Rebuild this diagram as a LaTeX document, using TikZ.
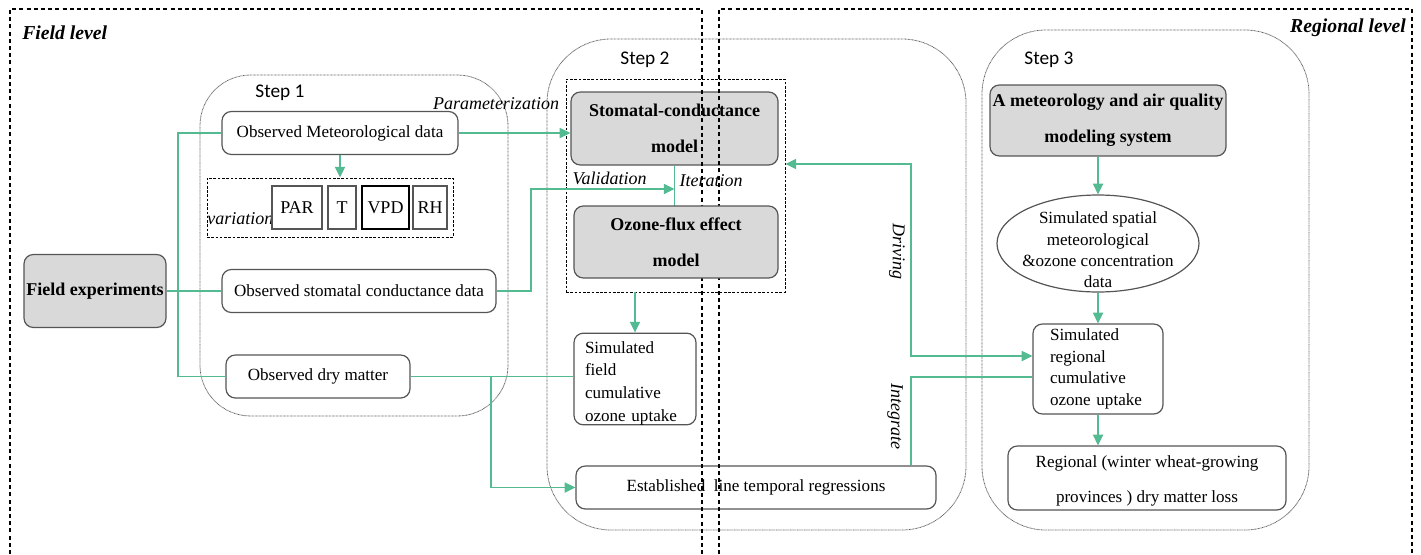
\documentclass[tikz,border=0pt]{standalone}
\usepackage{fontspec}
\setmainfont{Liberation Serif}
\newfontfamily\stepfont{Carlito}
\usetikzlibrary{arrows.meta,shapes.geometric,calc}

\definecolor{flow}{RGB}{84,186,146}
\definecolor{boxline}{RGB}{85,85,85}
\definecolor{boxfill}{RGB}{217,217,217}
\definecolor{stepline}{RGB}{95,95,95}

\tikzset{
  databox/.style={draw=boxline, line width=0.9pt, rounded corners=7pt, fill=white,
    inner sep=0pt, align=center, font=\fontsize{12.8}{15}\selectfont},
  modelbox/.style={databox, fill=boxfill, font=\bfseries\fontsize{13.5}{27}\selectfont},
  varbox/.style={draw=boxline, line width=0.9pt, inner sep=0pt, fill=white,
    minimum height=32.25pt, font=\fontsize{13.5}{15}\selectfont},
  finedash/.style={draw=black, line width=0.7pt, dash pattern=on 2pt off 1.2pt},
  levelframe/.style={draw=black, line width=0.8pt, dash pattern=on 3pt off 2.4pt},
  stepframe/.style={draw=stepline, line width=0.6pt, dash pattern=on 0.6pt off 0.45pt},
  steplabel/.style={font=\stepfont\fontsize{14.5}{16}\selectfont, inner sep=0pt},
  levellabel/.style={font=\bfseries\itshape\fontsize{14.8}{16}\selectfont, inner sep=0pt},
  flowlabel/.style={font=\itshape\fontsize{13.5}{15}\selectfont, inner sep=0pt},
  link/.style={draw=flow, line width=1.3pt},
  arr/.style={link, -{Triangle[length=8pt,width=7.5pt]}},
}

\begin{document}
\begin{tikzpicture}[x=0.75pt,y=-0.75pt]
\useasboundingbox (0,0) rectangle (1421,554);

% step frames (dotted rounded outlines)
\draw[stepframe, rounded corners=38pt] (200,75) rectangle (508,416);
\draw[stepframe, rounded corners=48pt] (547,39) rectangle (966,530);
\draw[stepframe, rounded corners=48pt] (982,30) rectangle (1309,530);
\node[steplabel] (s1) at (280,93) {Step 1};
\node[steplabel] (s2) at (645,60) {Step 2};
\node[steplabel] (s3) at (1049,60) {Step 3};

\node[levellabel, anchor=west] (fl) at (22,33) {Field level};
\node[levellabel, anchor=east] (rl) at (1406,28) {Regional level};

% field level: observations
\node[modelbox, minimum width=106.5pt, minimum height=54.75pt] (fe) at (95,291) {Field experiments};
\node[databox, minimum width=177pt, minimum height=32.25pt] (met) at (340,133) {Observed Meteorological data};
\node[finedash, minimum width=184.5pt, minimum height=44.25pt, inner sep=0pt] (var) at (330,207.5) {};
\node[flowlabel, anchor=west] (vartxt) at (207,219) {variation};
\node[varbox, minimum width=37.5pt] (par) at (297,207.5) {PAR};
\node[varbox, minimum width=21pt] (tt) at (342,207.5) {T};
\node[varbox, minimum width=35.25pt, draw=black, line width=1.4pt] (vpd) at (385.5,207.5) {VPD};
\node[varbox, minimum width=25.5pt] (rh) at (430,207.5) {RH};
\node[databox, minimum width=205.5pt, minimum height=32.25pt] (stom) at (359,291) {Observed stomatal conductance data};
\node[databox, minimum width=138pt, minimum height=32.25pt] (dry) at (318,376.5) {Observed dry matter};

% step 2: models
\node[finedash, minimum width=164.25pt, minimum height=159.75pt, inner sep=0pt] (mdl) at (675.5,185.5) {};
\node[modelbox, minimum width=155.25pt, minimum height=54.75pt] (scm) at (674.5,128.5) {Stomatal-conductance\\model};
\node[databox, minimum width=91.5pt, minimum height=67.5pt, align=left, text width=75pt,
  font=\fontsize{12.8}{17}\selectfont] (sfc) at (635,379) {\rule{0pt}{15pt}Simulated\\field\\cumulative\\ozone uptake};
\node[databox, minimum width=270pt, minimum height=32.25pt] (elr) at (756,487.5) {Established\ \ line temporal regressions};

% step 3: regional chain
\node[modelbox, minimum width=177pt, minimum height=53.25pt] (mams) at (1108,120.5) {A meteorology and air quality\\modeling system};
\node[draw=boxline, line width=0.9pt, ellipse, minimum width=151.5pt, minimum height=72.75pt,
  inner sep=0pt] (ell) at (1098,243.5) {};
\node[align=center, inner sep=0pt, font=\fontsize{12.8}{16}\selectfont] (elltxt) at (1098,250)
  {Simulated spatial\\meteorological\\\&ozone concentration\\data};
\node[databox, minimum width=97.5pt, minimum height=67.5pt, align=left, text width=72pt,
  font=\fontsize{12.8}{16.3}\selectfont] (src) at (1098,369) {Simulated\\regional\\cumulative\\ozone uptake};
\node[databox, minimum width=208.5pt, minimum height=48pt, font=\fontsize{12.8}{26}\selectfont] (rdl) at (1147,478)
  {\rule{0pt}{13pt}Regional (winter wheat-growing\\provinces ) dry matter loss};

% connectors
\coordinate (trunk) at (178,133);
\draw[link] (met.west) -- (trunk) |- (dry.west);
\draw[link] (fe.east) -- (stom.west);
\draw[arr] (met.east) -- (met.east -| scm.west);
\draw[arr] (met.south) -- (met.south |- var.north);
\coordinate (valid) at (531,189);
\coordinate (iter) at (674.5,189);
\draw[link] (scm.south) -- (scm.south |- 0,206);
\draw[arr] (stom.east) -| (valid) -- (iter);
\draw[arr] (sfc.north |- mdl.south) -- (sfc.north);
\draw[link] (dry.east) -- (dry.east -| sfc.west);
\coordinate (branch) at (491,376.5);
\draw[arr] (branch) |- (elr.west);
\coordinate (drvtop) at (911,164);
\coordinate (drvbot) at (911,356);
\draw[link, {Triangle[length=8pt,width=7.5pt]}-{Triangle[length=8pt,width=7.5pt]}]
  (drvtop -| mdl.east) -- (drvtop) -- (drvbot) -- (drvbot -| src.west);
\coordinate (intg) at (911,377);
\draw[link] (intg |- elr.north) -- (intg) -- (intg -| src.west);
\draw[arr] (mams.south -| ell.north) -- (ell.north);
\draw[arr] (ell.south) -- (ell.south |- src.north);
\draw[arr] (src.south) -- (src.south |- rdl.north);

\node[flowlabel] (lpar) at (496,104) {Parameterization};
\node[flowlabel] (lval) at (609.5,178) {Validation};
\node[flowlabel] (lite) at (711,181) {Iteration};
\node[flowlabel, rotate=-90] (ldrv) at (897,251) {Driving};
\node[flowlabel, rotate=-90] (lint) at (895,416) {Integrate};

% level frames, open at the bottom
\draw[levelframe] (10,554) -- (10,9) -- (702,9) -- (702,554);
\draw[levelframe] (719,554) -- (719,9) -- (1412,9) -- (1412,554);

\node[modelbox, minimum width=153pt, minimum height=54pt] (ofm) at (676,242) {Ozone-flux effect\\model};
\end{tikzpicture}
\end{document}
